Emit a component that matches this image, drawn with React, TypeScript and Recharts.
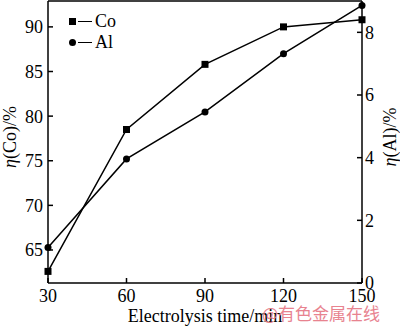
import React from 'react';
import {
  ComposedChart,
  Line,
  XAxis,
  YAxis,
  ReferenceLine,
  Label,
} from 'recharts';

const times = [30, 60, 90, 120, 150];
const coValues = [62.6, 78.5, 85.8, 90.0, 90.8];
const alValues = [1.13, 3.96, 5.46, 7.32, 8.86];
const xTicks = [30, 60, 90, 120, 150];
const coTicks = [65, 70, 75, 80, 85, 90];
const alTicks = [0, 2, 4, 6, 8];
const legendItems = [
  { name: 'Co', shape: 'square' },
  { name: 'Al', shape: 'circle' },
];

const data = times.map((t, i) => ({ t, co: coValues[i], al: alValues[i] }));

const font = '"Liberation Serif", "Times New Roman", serif';
const tickStyle = { fill: '#000', fontSize: 18, fontFamily: font };

const SquareDot = (props: any) => {
  const { cx, cy, index } = props;
  return <rect key={`sq-${index}`} x={cx - 3.5} y={cy - 3.5} width={7} height={7} fill="#000" />;
};

const LegendBox = () => (
  <div
    style={{
      position: 'absolute',
      left: 69,
      top: 11,
      fontFamily: font,
      fontSize: 18,
      lineHeight: '21px',
      color: '#000',
    }}
  >
    {legendItems.map((r) => (
      <div key={r.name} style={{ display: 'flex', alignItems: 'center', height: 21 }}>
        <span
          style={{
            width: 7,
            height: 7,
            background: '#000',
            borderRadius: r.shape === 'circle' ? '50%' : 0,
            display: 'inline-block',
          }}
        />
        <span
          style={{ width: 14, height: 1.5, background: '#000', margin: '0 3px 0 2px', display: 'inline-block' }}
        />
        <span>{r.name}</span>
      </div>
    ))}
  </div>
);

const AxisTitle = ({ viewBox, dx, text }: any) => {
  const x = viewBox.x + dx;
  const y = viewBox.y + viewBox.height / 2 - 5;
  return (
    <text
      x={x}
      y={y}
      transform={`rotate(-90 ${x} ${y})`}
      textAnchor="middle"
      dominantBaseline="central"
      fontFamily={font}
      fontSize={18}
      fill="#000"
    >
      <tspan fontStyle="italic">η</tspan>
      {text}
    </text>
  );
};

export default function App() {
  return (
    <div style={{ position: 'absolute', left: 0, top: 0, width: 400, height: 328, background: '#fff' }}>
      <ComposedChart width={400} height={328} data={data} margin={{ top: 1, right: 0, left: 0, bottom: 0 }}>
        <XAxis
          dataKey="t"
          type="number"
          domain={[30, 150]}
          ticks={xTicks}
          height={45}
          stroke="#000"
          strokeWidth={1.5}
          tickSize={-5}
          tickMargin={11}
          tick={tickStyle}
        >
          <Label
            content={({ viewBox }: any) => (
              <text
                x={viewBox.x + viewBox.width / 2}
                y={viewBox.y + 39}
                textAnchor="middle"
                fontFamily={font}
                fontSize={18}
                fill="#000"
              >
                Electrolysis time/min
              </text>
            )}
          />
        </XAxis>
        <YAxis
          yAxisId="co"
          orientation="left"
          domain={[61.3, 92.9]}
          ticks={coTicks}
          width={48}
          stroke="#000"
          strokeWidth={1.5}
          tickSize={-5}
          tickMargin={10}
          tick={tickStyle}
        >
          <Label content={(p: any) => <AxisTitle viewBox={p.viewBox} dx={10} text="(Co)/%" />} />
        </YAxis>
        <YAxis
          yAxisId="al"
          orientation="right"
          domain={[0, 9]}
          ticks={alTicks}
          width={38}
          stroke="#000"
          strokeWidth={1.5}
          tickSize={-5}
          tickMargin={8}
          tick={tickStyle}
        >
          <Label content={(p: any) => <AxisTitle viewBox={p.viewBox} dx={28} text="(Al)/%" />} />
        </YAxis>
        <ReferenceLine yAxisId="co" y={92.9} stroke="#000" strokeWidth={1.5} />
        <Line
          yAxisId="co"
          dataKey="co"
          name="Co"
          stroke="#000"
          strokeWidth={1.5}
          dot={<SquareDot />}
          isAnimationActive={false}
        />
        <Line
          yAxisId="al"
          dataKey="al"
          name="Al"
          stroke="#000"
          strokeWidth={1.5}
          dot={{ r: 3.5, fill: '#000', stroke: '#000', strokeWidth: 0 }}
          isAnimationActive={false}
        />
      </ComposedChart>
      <LegendBox />
      <div
        style={{
          position: 'absolute',
          left: 262,
          top: 300,
          fontFamily: '"Noto Sans CJK SC", sans-serif',
          fontSize: 17,
          color: '#e8838f',
          whiteSpace: 'nowrap',
        }}
      >
        @有色金属在线
      </div>
    </div>
  );
}
